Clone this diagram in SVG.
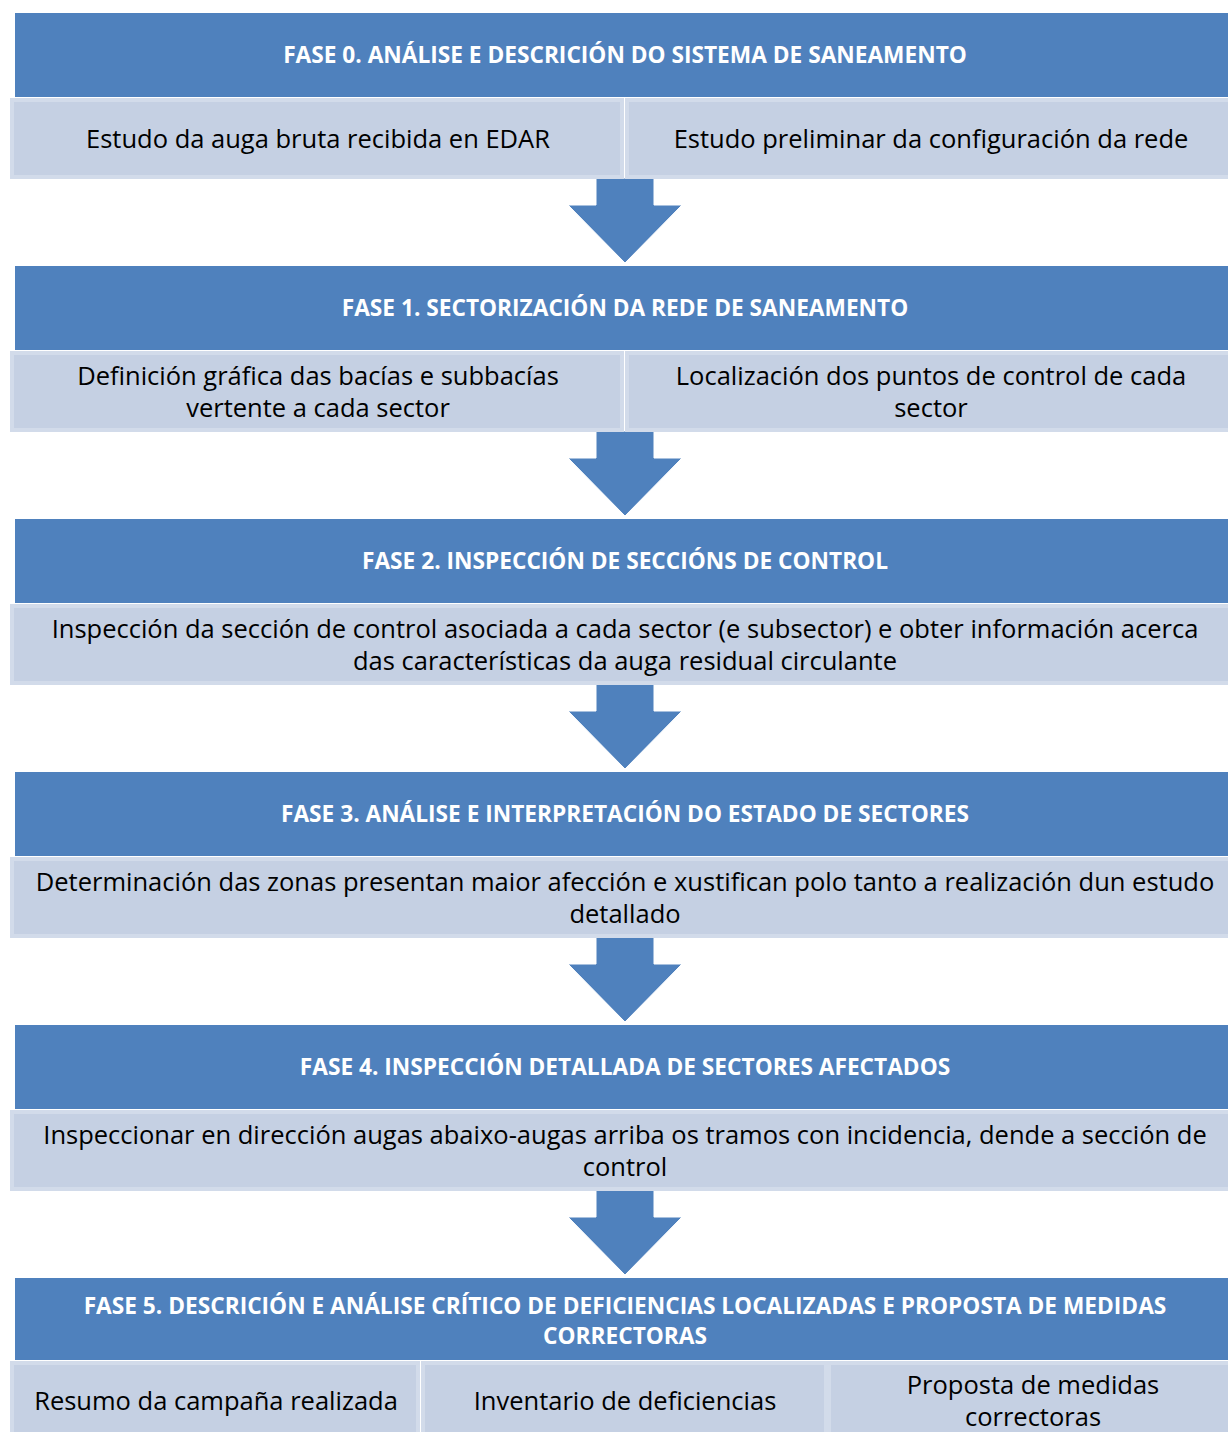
<svg xmlns="http://www.w3.org/2000/svg" width="1228" height="1432" viewBox="0 0 1228 1432">
<style>
.hdr{fill:#4F81BD}
.sub{fill:#C5D0E3;stroke:#D2DBEA;stroke-width:4}
.arr{fill:#4F81BD;stroke:#ffffff;stroke-width:1}
.ht{font-family:"Open Sans","Liberation Sans",sans-serif;font-weight:bold;font-size:22.7px;fill:#ffffff;text-anchor:middle}
.st{font-family:"Open Sans","Liberation Sans",sans-serif;font-size:25.5px;fill:#000000;text-anchor:middle}
</style>
<rect width="1228" height="1432" fill="#ffffff"/>
<g id="connectors">
<path class="arr" d="M596,178 L654,178 L654,205 L682,205 L625,263 L568,205 L596,205 Z"/>
<path class="arr" d="M596,431 L654,431 L654,458 L682,458 L625,516 L568,458 L596,458 Z"/>
<path class="arr" d="M596,684 L654,684 L654,711 L682,711 L625,769 L568,711 L596,711 Z"/>
<path class="arr" d="M596,937 L654,937 L654,964 L682,964 L625,1022 L568,964 L596,964 Z"/>
<path class="arr" d="M596,1190 L654,1190 L654,1217 L682,1217 L625,1275 L568,1217 L596,1217 Z"/>
</g>
<g id="fase0">
<rect class="hdr" x="15" y="13" width="1213" height="84"/>
<text class="ht" x="625" y="63">FASE 0. ANÁLISE E DESCRICIÓN DO SISTEMA DE SANEAMENTO</text>
<rect class="sub" x="12" y="100" width="610" height="77"/>
<rect class="sub" x="627" y="100" width="605" height="77"/>
<text class="st" x="318" y="148">Estudo da auga bruta recibida en EDAR</text>
<text class="st" x="931" y="148">Estudo preliminar da configuración da rede</text>
</g>
<g id="fase1">
<rect class="hdr" x="15" y="266" width="1213" height="84"/>
<text class="ht" x="625" y="316">FASE 1. SECTORIZACIÓN DA REDE DE SANEAMENTO</text>
<rect class="sub" x="12" y="353" width="610" height="77"/>
<rect class="sub" x="627" y="353" width="605" height="77"/>
<text class="st" x="318" y="385">Definición gráfica das bacías e subbacías</text>
<text class="st" x="318" y="417">vertente a cada sector</text>
<text class="st" x="931" y="385">Localización dos puntos de control de cada</text>
<text class="st" x="931" y="417">sector</text>
</g>
<g id="fase2">
<rect class="hdr" x="15" y="519" width="1213" height="84"/>
<text class="ht" x="625" y="569">FASE 2. INSPECCIÓN DE SECCIÓNS DE CONTROL</text>
<rect class="sub" x="12" y="606" width="1220" height="77"/>
<text class="st" x="625" y="638">Inspección da sección de control asociada a cada sector (e subsector) e obter información acerca</text>
<text class="st" x="625" y="670">das características da auga residual circulante</text>
</g>
<g id="fase3">
<rect class="hdr" x="15" y="772" width="1213" height="84"/>
<text class="ht" x="625" y="822">FASE 3. ANÁLISE E INTERPRETACIÓN DO ESTADO DE SECTORES</text>
<rect class="sub" x="12" y="859" width="1220" height="77"/>
<text class="st" x="625" y="891">Determinación das zonas presentan maior afección e xustifican polo tanto a realización dun estudo</text>
<text class="st" x="625" y="923">detallado</text>
</g>
<g id="fase4">
<rect class="hdr" x="15" y="1025" width="1213" height="84"/>
<text class="ht" x="625" y="1075">FASE 4. INSPECCIÓN DETALLADA DE SECTORES AFECTADOS</text>
<rect class="sub" x="12" y="1112" width="1220" height="77"/>
<text class="st" x="625" y="1144">Inspeccionar en dirección augas abaixo-augas arriba os tramos con incidencia, dende a sección de</text>
<text class="st" x="625" y="1176">control</text>
</g>
<g id="fase5">
<rect class="hdr" x="15" y="1278" width="1213" height="82"/>
<text class="ht" x="625" y="1314">FASE 5. DESCRICIÓN E ANÁLISE CRÍTICO DE DEFICIENCIAS LOCALIZADAS E PROPOSTA DE MEDIDAS</text>
<text class="ht" x="625" y="1344">CORRECTORAS</text>
<rect class="sub" x="12" y="1363" width="406" height="80"/>
<rect class="sub" x="423" y="1363" width="403" height="80"/>
<rect class="sub" x="829" y="1363" width="403" height="80"/>
<text class="st" x="216" y="1410">Resumo da campaña realizada</text>
<text class="st" x="625" y="1410">Inventario de deficiencias</text>
<text class="st" x="1033" y="1394">Proposta de medidas</text>
<text class="st" x="1033" y="1426">correctoras</text>
</g>
</svg>
